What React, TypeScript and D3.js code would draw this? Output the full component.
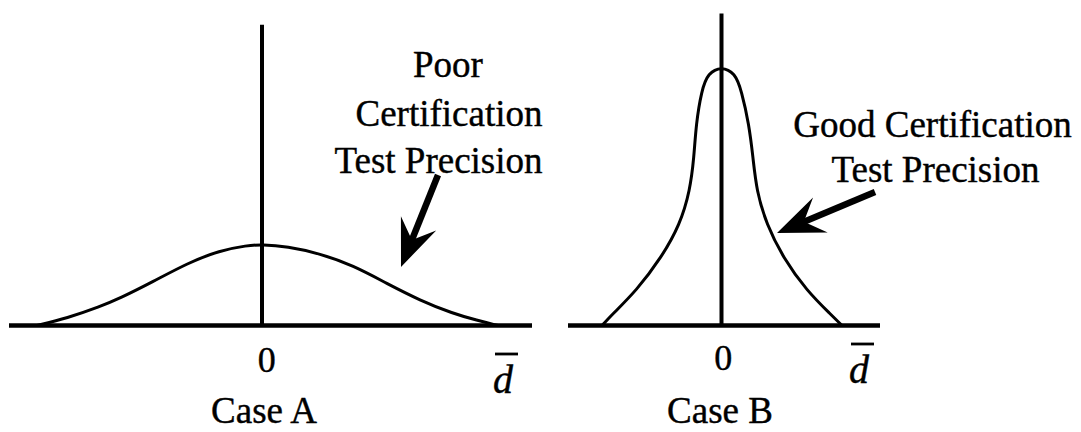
import * as d3 from "d3";
import React, { useEffect, useRef } from "react";

// curve values (x in d-bar units, y relative to the Case B peak)
const caseAX = [-4.5, -3.9, -3.24, -2.84, -2.18, -1.5, -0.84, -0.3, 0, 0.5, 1.16, 1.82, 2.5, 3.16, 3.82, 4.3, 4.72];
const caseAY = [0, 0.028, 0.073, 0.105, 0.169, 0.24, 0.29, 0.309, 0.313, 0.305, 0.278, 0.232, 0.162, 0.097, 0.046, 0.02, 0];

const caseBX = [-2.39, -2.2, -1.7, -1.2, -0.83, -0.63, -0.55, -0.51, -0.4, -0.27, 0, 0.27, 0.4, 0.55, 0.63, 0.7, 0.9, 1.23, 1.7, 2.2, 2.41];
const caseBY = [0, 0.04, 0.135, 0.263, 0.39, 0.521, 0.649, 0.776, 0.907, 0.975, 1, 0.975, 0.907, 0.776, 0.649, 0.521, 0.39, 0.263, 0.135, 0.04, 0];

const caseNames = ["Case A", "Case B"];
const zeroTick = "0";
const dbarTick = "d";
const dbarPos = [4.82, 2.75];

const noteA = ["Poor", "Certification", "Test Precision"];
const noteB = ["Good Certification", "Test Precision"];

export default function App() {
  const svgRef = useRef<SVGSVGElement>(null);
  const width = 1081;
  const height = 432;

  useEffect(() => {
    const svg = d3.select(svgRef.current);
    svg.selectAll("*").remove();

    const font = "'Liberation Serif', 'Times New Roman', Times, serif";
    const yScale = d3.scaleLinear().domain([0, 1]).range([325.5, 66.5]);

    const panels = [
      {
        name: caseNames[0],
        xs: caseAX,
        ys: caseAY,
        domain: [-5.06, 5.4],
        range: [9, 532],
        axisTop: 1.161,
        dbar: dbarPos[0],
        dbarY: 393,
        nameX: 264,
        zeroX: 266.7,
        zeroY: 371.7,
        notes: noteA.map((t, i) => ({ t, x: [3.72, 3.74, 3.53][i], y: [0.959, 0.77, 0.589][i] })),
        arrow: { tail: [3.52, 0.581], tip: [2.78, 0.226] },
      },
      {
        name: caseNames[1],
        xs: caseBX,
        ys: caseBY,
        domain: [-3.07, 3.17],
        range: [568, 880],
        axisTop: 1.205,
        dbar: dbarPos[1],
        dbarY: 383,
        nameX: 720,
        zeroX: 723.3,
        zeroY: 370,
        notes: noteB.map((t, i) => ({ t, x: [4.22, 4.28][i], y: [0.729, 0.555][i] })),
        arrow: { tail: [3.07, 0.515], tip: [1.11, 0.357] },
      },
    ];

    panels.forEach((p) => {
      const xScale = d3.scaleLinear().domain(p.domain).range(p.range);
      const g = svg.append("g");

      // baseline and vertical axis
      g.append("line")
        .attr("x1", p.range[0])
        .attr("x2", p.range[1])
        .attr("y1", yScale(0))
        .attr("y2", yScale(0))
        .attr("stroke", "#000")
        .attr("stroke-width", 4.5);
      g.append("line")
        .attr("x1", xScale(0))
        .attr("x2", xScale(0))
        .attr("y1", yScale(0))
        .attr("y2", yScale(p.axisTop))
        .attr("stroke", "#000")
        .attr("stroke-width", 4);

      // curve
      const pts = p.xs.map((x, i) => [x, p.ys[i]] as [number, number]);
      const line = d3
        .line<[number, number]>()
        .x((d) => xScale(d[0]))
        .y((d) => yScale(d[1]))
        .curve(d3.curveBasis);
      g.append("path")
        .attr("d", line(pts))
        .attr("fill", "none")
        .attr("stroke", "#000")
        .attr("stroke-width", 3);

      // tick labels
      g.append("text")
        .attr("x", p.zeroX)
        .attr("y", p.zeroY)
        .attr("text-anchor", "middle")
        .attr("font-family", font)
        .attr("font-size", 36)
        .attr("stroke", "#000")
        .attr("stroke-width", 0.4)
        .text(zeroTick);
      const dx = xScale(p.dbar);
      g.append("text")
        .attr("x", dx)
        .attr("y", p.dbarY)
        .attr("text-anchor", "middle")
        .attr("font-family", font)
        .attr("font-style", "italic")
        .attr("font-size", 40)
        .attr("stroke", "#000")
        .attr("stroke-width", 0.4)
        .text(dbarTick);
      g.append("line")
        .attr("x1", dx - 8)
        .attr("x2", dx + 15)
        .attr("y1", p.dbarY - 39)
        .attr("y2", p.dbarY - 39)
        .attr("stroke", "#000")
        .attr("stroke-width", 2.8);

      g.append("text")
        .attr("x", p.nameX)
        .attr("y", 423)
        .attr("text-anchor", "middle")
        .attr("font-family", font)
        .attr("font-size", 37)
        .attr("stroke", "#000")
        .attr("stroke-width", 0.4)
        .text(p.name);

      // annotation
      p.notes.forEach((n) => {
        g.append("text")
          .attr("x", xScale(n.x))
          .attr("y", yScale(n.y))
          .attr("text-anchor", "middle")
          .attr("font-family", font)
          .attr("font-size", 37)
          .attr("stroke", "#000")
          .attr("stroke-width", 0.4)
          .text(n.t);
      });

      const tx = xScale(p.arrow.tail[0]);
      const ty = yScale(p.arrow.tail[1]);
      const hx = xScale(p.arrow.tip[0]);
      const hy = yScale(p.arrow.tip[1]);
      const len = Math.hypot(hx - tx, hy - ty);
      const ux = (hx - tx) / len;
      const uy = (hy - ty) / len;
      const nx = -uy;
      const ny = ux;
      const L = 47;
      const w = 19;
      g.append("line")
        .attr("x1", tx)
        .attr("y1", ty)
        .attr("x2", hx - ux * L * 0.5)
        .attr("y2", hy - uy * L * 0.5)
        .attr("stroke", "#000")
        .attr("stroke-width", 6.5);
      const head = [
        [hx, hy],
        [hx - ux * L + nx * w, hy - uy * L + ny * w],
        [hx - ux * L * 0.62, hy - uy * L * 0.62],
        [hx - ux * L - nx * w, hy - uy * L - ny * w],
      ];
      g.append("path")
        .attr("d", "M" + head.map((q) => q.join(",")).join("L") + "Z")
        .attr("fill", "#000");
    });
  }, []);

  return (
    <div style={{ position: "absolute", left: 0, top: 0 }}>
      <svg ref={svgRef} width={width} height={height} style={{ display: "block", background: "#fff" }}></svg>
    </div>
  );
}
